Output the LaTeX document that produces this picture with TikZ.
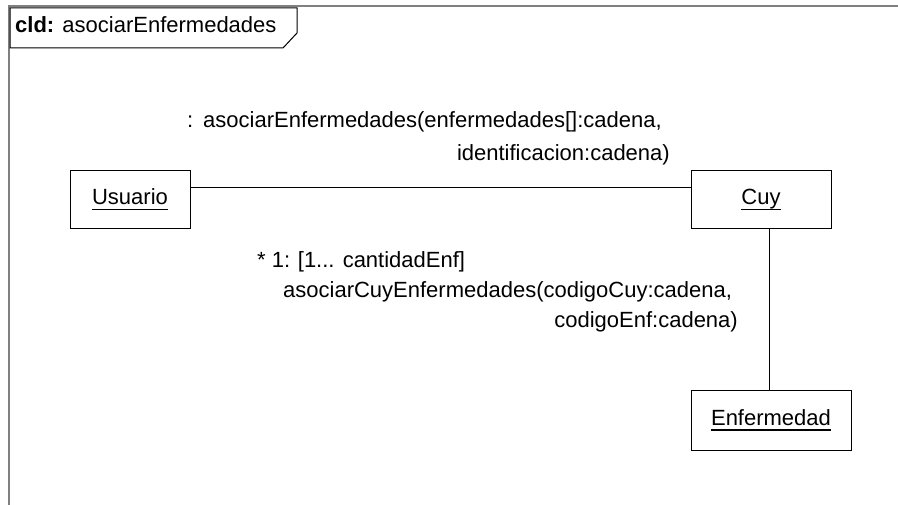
\documentclass[tikz,border=0pt]{standalone}
\usepackage{fontspec}
\setmainfont{Liberation Sans}
\newcommand\myul[1]{\setbox0\hbox{#1}\rlap{\smash{\rule[-5pt]{\wd0}{1.2pt}}}\box0}
\begin{document}
\begin{tikzpicture}[x=1pt,y=-1pt,
  obj/.style={draw, line width=1pt, inner sep=0pt, font=\fontsize{22}{26}\selectfont, text height=10pt, text depth=0pt},
  lbl/.style={font=\fontsize{22}{26}\selectfont, inner sep=0pt, anchor=base west},
  conn/.style={line width=1pt}]
\useasboundingbox (0,0) rectangle (898,505);
\draw[gray, line width=1.3pt] (9,505) -- (9,6) -- (898,6);
\draw[line width=1pt] (10,8) -- (297,8) -- (297,33) -- (283,48) -- (10,48) -- cycle;
\node[lbl] (title) at (15,33) {\textbf{cld:} asociarEnfermedades};
\node[obj, minimum width=120pt, minimum height=58pt] (usuario) at (130,200) {\myul{Usuario}};
\node[obj, minimum width=140pt, minimum height=58pt] (cuy) at (761,200) {\myul{Cuy}};
\node[obj, minimum width=160pt, minimum height=59pt] (enf) at (771,420.5) {\myul{Enfermedad}};
\draw[conn] ([yshift=12pt]usuario.east) -- ([yshift=12pt]cuy.west);
\draw[conn] ([xshift=8pt]cuy.south) -- ([xshift=8pt]cuy.south |- enf.north);
\node[lbl] (m1a) at (187,128) {:\hspace{0.45em}asociarEnfermedades(enfermedades[]:cadena,};
\node[lbl, anchor=base east] (m1b) at (670,161) {identificacion:cadena)};
\node[lbl] (m2a) at (257,268) {* 1:\hspace{0.35em}[1... cantidadEnf]};
\node[lbl] (m2b) at (283,298) {asociarCuyEnfermedades(codigoCuy:cadena,};
\node[lbl, anchor=base east] (m2c) at (738,328) {codigoEnf:cadena)};
\end{tikzpicture}
\end{document}
